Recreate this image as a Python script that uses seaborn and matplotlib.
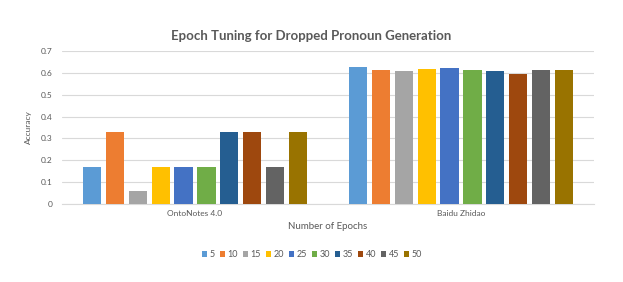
import pandas as pd
import matplotlib.pyplot as plt
import seaborn as sns

# ── Data ──────────────────────────────────────────────────────────────────────
datasets = ["OntoNotes 4.0", "Baidu Zhidao"]
epochs = ["5", "10", "15", "20", "25", "30", "35", "40", "45", "50"]
ontonotes_acc = [0.17, 0.33, 0.06, 0.17, 0.17, 0.17, 0.33, 0.33, 0.17, 0.33]
baidu_acc = [0.629, 0.615, 0.608, 0.620, 0.621, 0.611, 0.608, 0.594, 0.611, 0.614]
yticks = [0, 0.1, 0.2, 0.3, 0.4, 0.5, 0.6, 0.7]
colors = ["#5B9BD5", "#ED7D31", "#A5A5A5", "#FFC000", "#4472C4",
          "#70AD47", "#255E91", "#9E480E", "#636363", "#997300"]

df = pd.DataFrame({
    "dataset": [datasets[0]] * len(epochs) + [datasets[1]] * len(epochs),
    "epoch": epochs * 2,
    "accuracy": ontonotes_acc + baidu_acc,
})

# ── Plot ──────────────────────────────────────────────────────────────────────
sns.set_style("white")
plt.rcParams["font.family"] = ["Lato", "DejaVu Sans"]
text_col = "#595959"

fig = plt.figure(figsize=(6.23, 2.82), dpi=100)
ax = fig.add_axes([0.0995, 0.2766, 0.854, 0.5424])

sns.barplot(data=df, x="dataset", y="accuracy", hue="epoch", order=datasets,
            hue_order=epochs, palette=colors, saturation=1, width=0.86,
            linewidth=0, ax=ax, zorder=3)

# Excel-style gap between neighbouring bars
for p in ax.patches:
    w = p.get_width()
    p.set_x(p.get_x() + w * 0.1)
    p.set_width(w * 0.8)

ax.set_ylim(0, 0.7)
ax.set_yticks(yticks)
ax.set_yticklabels([f"{t:g}" for t in yticks])
ax.yaxis.grid(True, color="#D9D9D9", linewidth=0.8, zorder=0)
for s in ["top", "right", "left"]:
    ax.spines[s].set_visible(False)
ax.spines["bottom"].set_color("#D9D9D9")
ax.tick_params(axis="both", length=0, labelsize=6, colors=text_col, pad=7)
ax.tick_params(axis="x", pad=4)

ax.set_xlabel("Number of Epochs", fontsize=7, color=text_col, labelpad=4)
ax.set_ylabel("Accuracy", fontsize=6, color=text_col, labelpad=6)
fig.suptitle("Epoch Tuning for Dropped Pronoun Generation", x=0.5, y=0.895,
             fontsize=9.5, color=text_col, fontweight="bold")

handles, labels = ax.get_legend_handles_labels()
ax.legend(handles, labels, loc="center", bbox_to_anchor=(0.47, -0.33),
          ncol=10, frameon=False, fontsize=6.5, handlelength=0.55,
          handleheight=0.55, handletextpad=0.3, columnspacing=0.55,
          labelcolor=text_col)

plt.savefig("out.png", dpi=100)
